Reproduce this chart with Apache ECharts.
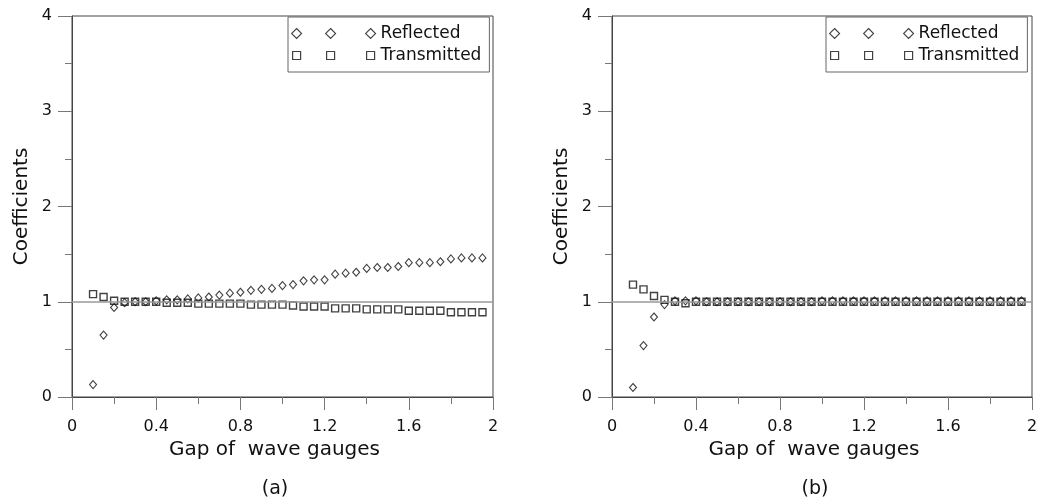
<!DOCTYPE html>
<html>
<head>
<meta charset="utf-8">
<script src="https://cdn.jsdelivr.net/npm/echarts@6/dist/echarts.min.js"></script>
<style>
html,body{margin:0;padding:0;background:#fff;}
#chart{width:1041px;height:503px;}
</style>
</head>
<body>
<div id="chart"></div>
<script>
// ---- data ----
const gaps = [0.10,0.15,0.20,0.25,0.30,0.35,0.40,0.45,0.50,0.55,0.60,0.65,0.70,0.75,0.80,0.85,0.90,0.95,1.00,1.05,1.10,1.15,1.20,1.25,1.30,1.35,1.40,1.45,1.50,1.55,1.60,1.65,1.70,1.75,1.80,1.85,1.90,1.95];
const reflectedA = [0.13,0.65,0.94,0.99,1.00,1.00,1.01,1.02,1.02,1.03,1.04,1.05,1.07,1.09,1.10,1.12,1.13,1.14,1.17,1.18,1.22,1.23,1.23,1.29,1.30,1.31,1.35,1.36,1.36,1.37,1.41,1.41,1.41,1.42,1.45,1.46,1.46,1.46];
const transmittedA = [1.08,1.05,1.01,1.00,1.00,1.00,1.00,0.99,0.99,0.99,0.98,0.98,0.98,0.98,0.98,0.97,0.97,0.97,0.97,0.96,0.95,0.95,0.95,0.93,0.93,0.93,0.92,0.92,0.92,0.92,0.905,0.905,0.905,0.905,0.89,0.89,0.89,0.89];
const reflectedB = [0.10,0.54,0.84,0.97,1.01,1.01,1.01,1.00,1.00,1.00,1.00,1.00,1.00,1.00,1.00,1.00,1.00,1.00,1.01,1.01,1.01,1.01,1.01,1.01,1.01,1.01,1.01,1.01,1.01,1.01,1.01,1.01,1.01,1.01,1.01,1.01,1.01,1.01];
const transmittedB = [1.18,1.13,1.06,1.02,1.00,0.985,1.00,1.00,1.00,1.00,1.00,1.00,1.00,1.00,1.00,1.00,1.00,1.00,1.00,1.00,1.00,1.00,1.00,1.00,1.00,1.00,1.00,1.00,1.00,1.00,1.00,1.00,1.00,1.00,1.00,1.00,1.00,1.00];
const seriesNames = ['Reflected','Transmitted'];
const panelLabels = ['(a)','(b)'];
const xAxisName = 'Gap of  wave gauges';
const yAxisName = 'Coefficients';
const referenceLevel = 1;

// ---- styling / layout ----
const FONT = 'DejaVu Sans';
const pair = (ys) => gaps.map((x, i) => [x, ys[i]]);
const diamondsIcon = 'path://M5,0L10,5L5,10L0,5ZM39,0L44,5L39,10L34,5ZM79,0L84,5L79,10L74,5Z';
const squaresIcon = 'path://M1,1H9V9H1ZM35,1H43V9H35ZM75,1H83V9H75ZM0,0M84,10';

function makeX(gridIndex) {
  return {
    type: 'value', gridIndex, min: 0, max: 2, interval: 0.4,
    name: xAxisName, nameLocation: 'middle', nameGap: 40,
    nameTextStyle: { fontFamily: FONT, fontSize: 20, color: '#111', padding: [0, 16, 0, 0] },
    axisLine: { show: true, onZero: false, lineStyle: { color: '#444', width: 1 } },
    axisTick: { show: true, length: 13, lineStyle: { color: '#777' } },
    minorTick: { show: true, splitNumber: 2, length: 7, lineStyle: { color: '#777' } },
    axisLabel: { fontFamily: FONT, fontSize: 16, color: '#111', margin: 22, showMinLabel: true, showMaxLabel: true },
    splitLine: { show: false }
  };
}
function makeY(gridIndex) {
  return {
    type: 'value', gridIndex, min: 0, max: 4, interval: 1,
    name: yAxisName, nameLocation: 'middle', nameGap: 40, nameRotate: 90,
    nameTextStyle: { fontFamily: FONT, fontSize: 20, color: '#111' },
    axisLine: { show: true, onZero: false, lineStyle: { color: '#444', width: 1 } },
    axisTick: { show: true, length: 14, lineStyle: { color: '#777' } },
    minorTick: { show: true, splitNumber: 2, length: 7, lineStyle: { color: '#777' } },
    axisLabel: { fontFamily: FONT, fontSize: 16, color: '#111', margin: 20, showMinLabel: true, showMaxLabel: true },
    splitLine: { show: false }
  };
}
function reflSeries(idx, ys) {
  return {
    name: seriesNames[0], type: 'scatter', xAxisIndex: idx, yAxisIndex: idx,
    symbol: 'diamond', symbolSize: [7, 8],
    itemStyle: { color: 'rgba(255,255,255,0)', borderColor: '#111', borderWidth: 1.1 },
    data: pair(ys), z: 3, animation: false
  };
}
function transSeries(idx, ys) {
  return {
    name: seriesNames[1], type: 'scatter', xAxisIndex: idx, yAxisIndex: idx,
    symbol: 'rect', symbolSize: 7,
    itemStyle: { color: 'rgba(255,255,255,0)', borderColor: '#111', borderWidth: 1.4 },
    data: pair(ys), z: 2, animation: false,
    markLine: {
      silent: true, symbol: 'none', animation: false,
      label: { show: false },
      lineStyle: { color: '#9a9a9a', width: 1.5, type: 'solid' },
      data: [{ yAxis: referenceLevel }]
    }
  };
}
function makeLegend(left) {
  return {
    orient: 'vertical', left, top: 17, align: 'left',
    itemWidth: 84, itemHeight: 10, itemGap: 5,
    padding: [8, 8, 8, 3],
    borderColor: '#666', borderWidth: 1,
    textStyle: { fontFamily: FONT, fontSize: 17, color: '#111' },
    data: [
      { name: seriesNames[0], icon: diamondsIcon, itemStyle: { color: 'rgba(255,255,255,0)', borderColor: '#111', borderWidth: 1.1 } },
      { name: seriesNames[1], icon: squaresIcon, itemStyle: { color: 'rgba(255,255,255,0)', borderColor: '#111', borderWidth: 1.2 } }
    ]
  };
}

const chart = echarts.init(document.getElementById('chart'), null, { renderer: 'canvas' });
chart.setOption({
  animation: false,
  backgroundColor: '#fff',
  grid: [
    { left: 72, top: 16, width: 421, height: 381, show: true, borderColor: '#444', borderWidth: 1, backgroundColor: 'transparent' },
    { left: 612, top: 16, width: 420, height: 381, show: true, borderColor: '#444', borderWidth: 1, backgroundColor: 'transparent' }
  ],
  xAxis: [makeX(0), makeX(1)],
  yAxis: [makeY(0), makeY(1)],
  legend: [makeLegend(288), makeLegend(826)],
  series: [
    transSeries(0, transmittedA), reflSeries(0, reflectedA),
    transSeries(1, transmittedB), reflSeries(1, reflectedB)
  ],
  graphic: [
    { type: 'text', x: 275, y: 489, style: { text: panelLabels[0], fontSize: 19, fontFamily: FONT, fill: '#111', align: 'center', verticalAlign: 'middle' } },
    { type: 'text', x: 815, y: 489, style: { text: panelLabels[1], fontSize: 19, fontFamily: FONT, fill: '#111', align: 'center', verticalAlign: 'middle' } }
  ]
});
</script>
</body>
</html>
